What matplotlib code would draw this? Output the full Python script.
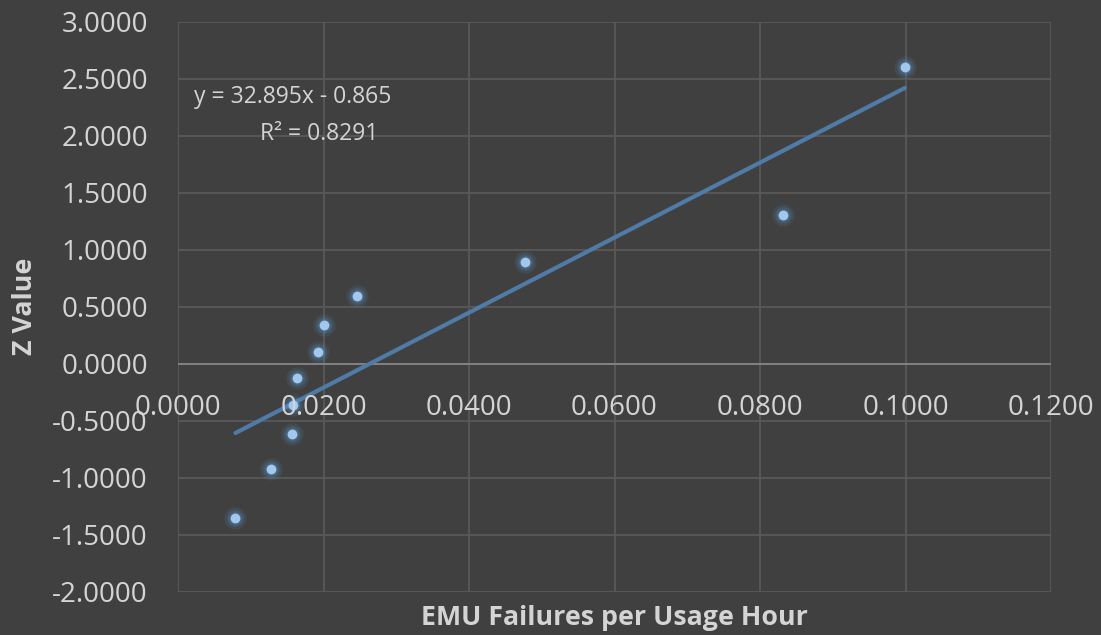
import matplotlib
matplotlib.use("Agg")
import matplotlib.pyplot as plt
import matplotlib.transforms as mtransforms
import numpy as np

failures_per_hour = [0.0079, 0.0128, 0.0157, 0.0158, 0.0163, 0.0193, 0.0200, 0.0246, 0.0477, 0.0831, 0.0999]
z_values = [-1.351, -0.921, -0.614, -0.36, -0.123, 0.105, 0.342, 0.596, 0.895, 1.307, 2.605]
trend_slope = 32.895
trend_intercept = -0.865
equation_label = "y = 32.895x - 0.865"
r2_label = "R² = 0.8291"
x_ticks = [0.0, 0.02, 0.04, 0.06, 0.08, 0.10, 0.12]
y_ticks = [-2.0, -1.5, -1.0, -0.5, 0.0, 0.5, 1.0, 1.5, 2.0, 2.5, 3.0]

W, H = 1101, 635
bg = "#404040"
txt = "#d4d4d4"
plt.rcParams['font.family'] = ['Open Sans', 'DejaVu Sans']

fig = plt.figure(figsize=(W/100, H/100), dpi=100, facecolor=bg)
L, R, T, B = 178, 1051, 22, 592
ax = fig.add_axes([L/W, 1-B/H, (R-L)/W, (B-T)/H], facecolor=bg)
ax.set_xlim(0, 0.12)
ax.set_ylim(-2, 3)
for s in ax.spines.values():
    s.set_visible(False)
ax.set_xticks(x_ticks)
ax.set_yticks(y_ticks)
ax.grid(True, color="#595959", lw=1.3)
ax.set_axisbelow(True)
ax.axhline(0, color="#858585", lw=1.3, zorder=1)
ax.tick_params(length=0, labelbottom=False, labelleft=False)

def offset(dx, dy):
    return mtransforms.offset_copy(ax.transData, fig=fig, x=dx*72/100, y=dy*72/100, units='points')

ylab_tr = mtransforms.blended_transform_factory(fig.transFigure, ax.transData)
for v in y_ticks:
    ax.text(148/W, v, f"{v:.4f}", ha='right', va='baseline', color=txt, fontsize=20,
            transform=mtransforms.offset_copy(ylab_tr, fig=fig, x=0, y=-10*0.72, units='points'),
            clip_on=False, zorder=7)
for v in x_ticks:
    ax.text(v, 0, f"{v:.4f}", ha='center', va='baseline', color=txt, fontsize=20, zorder=7,
            transform=offset(0, -51), clip_on=False)

xs = np.array(failures_per_hour)
ys = np.array(z_values)
xl = np.array([xs.min(), xs.max()])
ax.plot(xl, trend_slope*xl + trend_intercept, color="#4f7ba6", lw=3, solid_capstyle='round', zorder=3)
for s_, a in [(16, 0.12), (12, 0.18), (9, 0.25)]:
    ax.plot(xs, ys, 'o', ms=s_, color="#5b9bd5", alpha=a, mec='none', zorder=4)
ax.plot(xs, ys, 'o', ms=7, color="#a3c8ee", mec='none', zorder=5)

fig.text(292.5/W, 1-93.7/H, equation_label, ha='center', va='center_baseline', color=txt, fontsize=16.5, zorder=6)
fig.text(319/W, 1-131/H, r2_label, ha='center', va='center_baseline', color=txt, fontsize=16.5, zorder=6)

fig.text(614/W, 1-625/H, "EMU Failures per Usage Hour", ha='center', va='baseline',
         color=txt, fontsize=19.3, fontweight='bold')
fig.text(25/W, 1-306/H, "Z Value", ha='center', va='center', rotation=90,
         color=txt, fontsize=19.3, fontweight='bold')

fig.savefig("out.png", dpi=100, facecolor=bg)
